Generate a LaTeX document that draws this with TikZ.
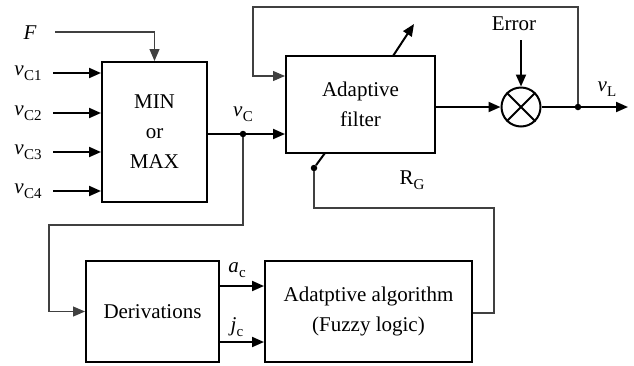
\documentclass[tikz,border=0pt]{standalone}
\usepackage{fontspec}
\setmainfont{Liberation Serif}
\usetikzlibrary{arrows.meta}
\newcommand{\sig}[2]{\textit{#1}\kern0.3pt\raisebox{-0.22em}{\fontsize{15}{15}\selectfont #2}}
\tikzset{
  big/.style={font=\fontsize{21}{30}\selectfont},
  blk/.style={draw, line width=2pt, rectangle, inner sep=0pt, align=center, big},
  thk/.style={line width=2pt},
  thn/.style={line width=1.1pt, draw=black!75},
  arr/.style={-{Triangle[length=12pt,width=10pt]}},
  dotn/.style={circle, fill, inner sep=0pt, minimum size=6.5pt},
}
\begin{document}
\begin{tikzpicture}[x=1pt,y=-1pt]
\useasboundingbox (0,0) rectangle (634,365);
% blocks
\node[blk, minimum width=105pt, minimum height=140pt] (mm) at (154.5,132) {MIN\\or\\MAX};
\node[blk, minimum width=149pt, minimum height=97pt] (af) at (360.5,104.5) {Adaptive\\filter};
\node[blk, minimum width=133pt, minimum height=101pt] (der) at (152.5,311.5) {Derivations};
\node[blk, minimum width=207pt, minimum height=101pt] (alg) at (368.5,311.5) {Adatptive algorithm\\(Fuzzy logic)};
\node[draw, line width=2pt, circle, minimum size=39pt, inner sep=0pt] (mul) at (521,107) {};
\draw[thk] (mul.north west) -- (mul.south east) (mul.north east) -- (mul.south west);
% inputs
\node[big, font=\fontsize{21}{21}\selectfont\itshape] (F) at (30,33) {F};
\coordinate (Fs) at (55,32);
\draw[thn, arr] (Fs) -| (mm.north);
\foreach \i/\y in {1/73,2/113,3/152,4/191}{
  \node[big] (vc\i) at (28,\y) {\sig{v}{C\i}};
  \coordinate (in\i) at (53,\y);
  \draw[thk, arr] (in\i) -- (in\i -| mm.west);
}
% vC
\node[dotn] (dC) at (243,134) {};
\node[big] (vcl) at (243,114) {\sig{v}{C}};
\draw[thk] (mm.east |- dC) -- (dC);
\draw[thk, arr] (dC) -- (dC -| af.west);
\coordinate (c1) at (243,225);
\coordinate (c2) at (49,225);
\draw[thn, arr] (dC) -- (c1) -- (c2) |- (der.west);
% outputs
\draw[thk, arr] (af.east |- mul) -- (mul.west);
\node[dotn] (dL) at (578,107) {};
\coordinate (out) at (628,107);
\draw[thk] (mul.east) -- (dL);
\draw[thk, arr] (dL) -- (out);
\node[big] (vl) at (607,89) {\sig{v}{L}};
\node[big] (err) at (514,24) {Error};
\draw[thk, arr] (521,40) -- (mul.north);
% feedback
\coordinate (f1) at (578,7);
\coordinate (f2) at (253,7);
\coordinate (f3) at (253,76);
\draw[thn, arr] (dL) -- (f1) -- (f2) -- (f3) -- (f3 -| af.west);
% diagonal arrow
\coordinate (d1) at (393,56);
\coordinate (d2) at (414,24);
\draw[thk, arr] (d1) -- (d2);
% RG
\node[dotn] (dG) at (314,168) {};
\coordinate (g0) at (325,153);
\draw[thk] (g0) -- (dG);
\coordinate (g1) at (314,208);
\coordinate (g2) at (494,208);
\coordinate (g3) at (494,313);
\draw[thn] (dG) -- (g1) -- (g2) -- (g3) -- (g3 -| alg.east);
\node[big] (rg) at (412,180) {R\raisebox{-0.22em}{\fontsize{15}{15}\selectfont G}};
% derivations outputs
\draw[thk, arr] (der.east |- 0,286) -- (alg.west |- 0,286);
\draw[thk, arr] (der.east |- 0,342) -- (alg.west |- 0,342);
\node[big] (ac) at (237,270) {\sig{a}{c}};
\node[big] (jc) at (237,327) {\sig{j}{c}};
\end{tikzpicture}
\end{document}
